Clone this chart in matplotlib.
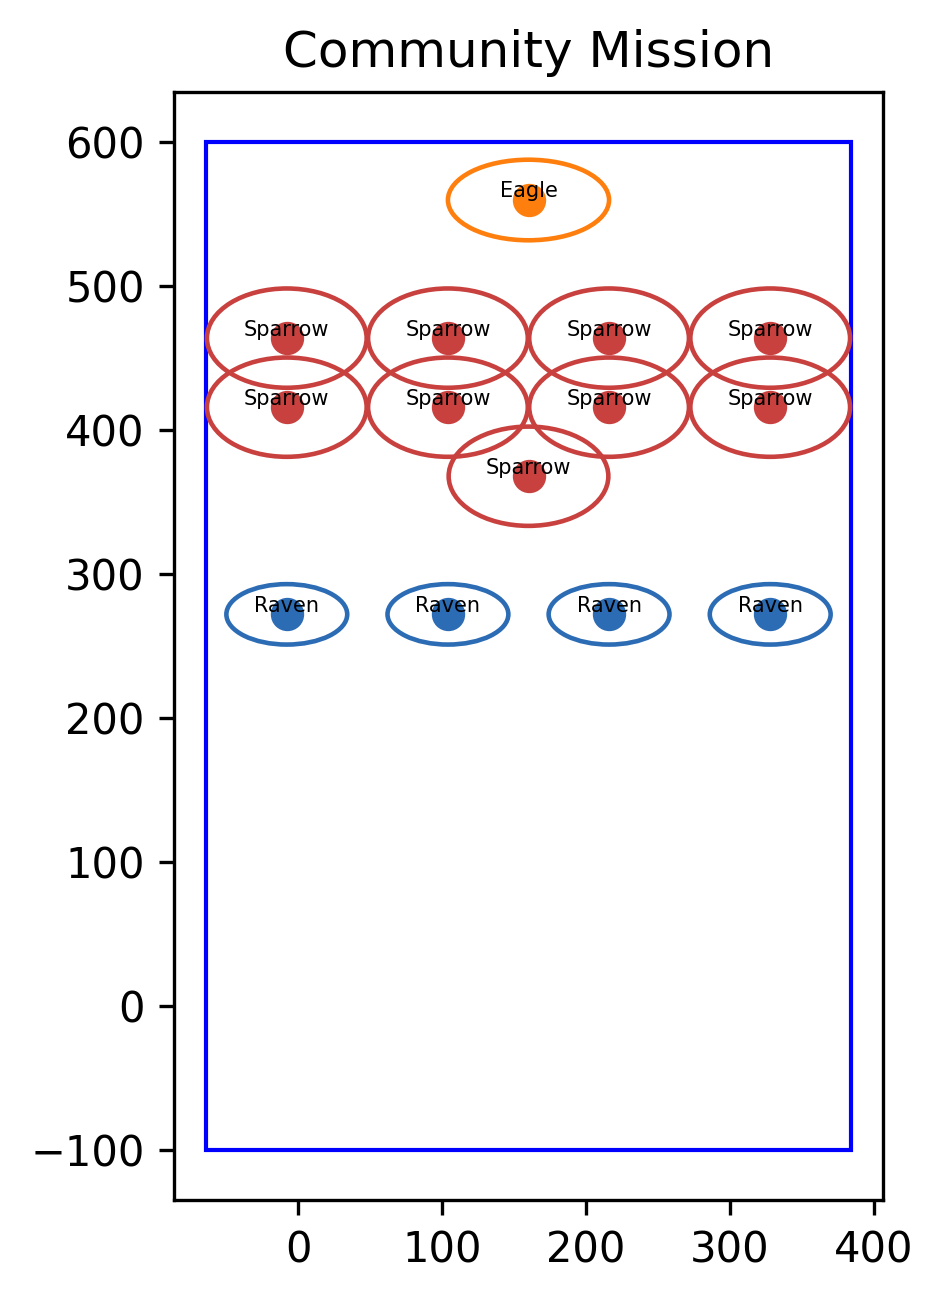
import matplotlib
matplotlib.use("Agg")
import matplotlib.pyplot as plt
from matplotlib.patches import Ellipse, Rectangle

# boundary of the mission area
area_x = [-64, 384]
area_y = [-100, 600]

# members by role
eagle_x = [160]
eagle_y = [560]
sparrow_x = [-8, 104, 216, 328, -8, 104, 216, 328, 160]
sparrow_y = [464, 464, 464, 464, 416, 416, 416, 416, 368]
raven_x = [-8, 104, 216, 328]
raven_y = [272, 272, 272, 272]

roles = [
    ("Eagle", eagle_x, eagle_y, "#ff7f0e", (112, 56)),
    ("Sparrow", sparrow_x, sparrow_y, "#c8413f", (111, 69)),
    ("Raven", raven_x, raven_y, "#2c6cb4", (84, 42)),
]

fig = plt.figure(figsize=(943 / 300, 1302 / 300), dpi=300)
ax = fig.add_axes([174 / 943, 102 / 1302, 709 / 943, 1108 / 1302])

ax.add_patch(Rectangle((area_x[0], area_y[0]), area_x[1] - area_x[0],
                       area_y[1] - area_y[0], fill=False, edgecolor="blue", lw=1))

for name, xs, ys, color, (w, h) in roles:
    ax.plot(xs, ys, "o", color=color, markersize=7, linestyle="none")
    for x, y in zip(xs, ys):
        ax.add_patch(Ellipse((x, y), w, h, fill=False, edgecolor=color, lw=1.1))
        ax.text(x, y - 1, name, ha="center", va="bottom", fontsize=5)

ax.autoscale_view()
ax.set_aspect("equal")
ax.set_title("Community Mission")

fig.savefig("out.png", dpi=300)
